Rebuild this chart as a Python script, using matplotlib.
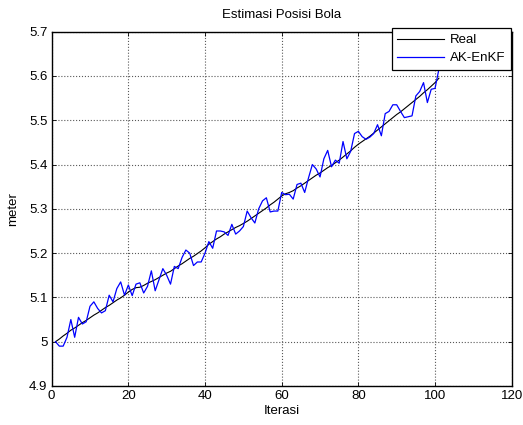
import matplotlib
matplotlib.use("Agg")
import matplotlib.pyplot as plt

iterasi = list(range(1, 102))

real = [5.000, 5.006, 5.013, 5.019, 5.026, 5.031, 5.037, 5.043, 5.048, 5.054,
        5.060, 5.065, 5.071, 5.077, 5.082, 5.088, 5.094, 5.099, 5.105, 5.112,
        5.118, 5.122, 5.123, 5.127, 5.132, 5.136, 5.140, 5.145, 5.150, 5.155,
        5.159, 5.165, 5.171, 5.176, 5.182, 5.188, 5.193, 5.199, 5.205, 5.212,
        5.220, 5.226, 5.232, 5.237, 5.243, 5.248, 5.253, 5.258, 5.262, 5.267,
        5.272, 5.278, 5.284, 5.290, 5.296, 5.302, 5.309, 5.315, 5.322, 5.329,
        5.334, 5.337, 5.341, 5.347, 5.352, 5.358, 5.364, 5.370, 5.376, 5.381,
        5.387, 5.393, 5.398, 5.404, 5.410, 5.417, 5.424, 5.431, 5.439, 5.446,
        5.452, 5.458, 5.464, 5.471, 5.478, 5.485, 5.492, 5.499, 5.506, 5.513,
        5.519, 5.526, 5.533, 5.540, 5.547, 5.554, 5.562, 5.569, 5.577, 5.585,
        5.595]

ak_enkf = [5.000, 4.990, 4.990, 5.010, 5.050, 5.010, 5.055, 5.040, 5.045, 5.080,
           5.090, 5.075, 5.065, 5.070, 5.105, 5.090, 5.120, 5.135, 5.105, 5.128,
           5.104, 5.130, 5.133, 5.110, 5.125, 5.160, 5.115, 5.140, 5.165, 5.150,
           5.130, 5.170, 5.165, 5.190, 5.207, 5.200, 5.172, 5.180, 5.180, 5.200,
           5.226, 5.211, 5.250, 5.250, 5.248, 5.240, 5.265, 5.243, 5.250, 5.260,
           5.295, 5.280, 5.268, 5.300, 5.318, 5.325, 5.293, 5.295, 5.295, 5.337,
           5.332, 5.333, 5.322, 5.355, 5.358, 5.337, 5.370, 5.400, 5.390, 5.372,
           5.413, 5.432, 5.395, 5.410, 5.403, 5.452, 5.413, 5.430, 5.470, 5.475,
           5.463, 5.457, 5.462, 5.470, 5.490, 5.465, 5.515, 5.520, 5.535, 5.535,
           5.520, 5.506, 5.508, 5.510, 5.555, 5.565, 5.585, 5.540, 5.570, 5.572,
           5.615]

xticks = [0, 20, 40, 60, 80, 100, 120]
yticks = [4.9, 5.0, 5.1, 5.2, 5.3, 5.4, 5.5, 5.6, 5.7]
yticklabels = ["4.9", "5", "5.1", "5.2", "5.3", "5.4", "5.5", "5.6", "5.7"]

plt.rcParams['font.family'] = ['Liberation Sans', 'DejaVu Sans']
FS = 9.5

fig = plt.figure(figsize=(5.23, 4.25), dpi=100)
ax = fig.add_axes([0.0988, 0.0918, 0.8796, 0.8336])

ax.plot(iterasi, real, color='black', linewidth=0.8, label='Real')
ax.plot(iterasi, ak_enkf, color='#0000ff', linewidth=0.9, label='AK-EnKF')

ax.set_xlim(0, 120)
ax.set_ylim(4.9, 5.7)
ax.set_xticks(xticks)
ax.set_yticks(yticks)
ax.set_yticklabels(yticklabels)
ax.tick_params(direction='in', length=3, width=0.6, labelsize=FS, top=True, right=True,
               labeltop=False, labelright=False, pad=3)
ax.grid(True, linestyle=':', color='0.35', linewidth=0.8)
for s in ax.spines.values():
    s.set_linewidth(1.0)
    s.set_color('black')

ax.set_title('Estimasi Posisi Bola', fontsize=FS, pad=10)
ax.set_xlabel('Iterasi', fontsize=FS, labelpad=2)
ax.set_ylabel('meter', fontsize=FS, labelpad=7)

leg = ax.legend(loc='upper right', fontsize=FS, frameon=True, fancybox=False,
                edgecolor='black', framealpha=1, borderaxespad=0.0,
                bbox_to_anchor=(511 / 523, 1 - 28 / 425), bbox_transform=fig.transFigure,
                handlelength=3.5, handletextpad=0.45, borderpad=0.45, labelspacing=0.45)
leg.get_frame().set_linewidth(0.9)

fig.savefig('out.png', dpi=100, facecolor='white')
